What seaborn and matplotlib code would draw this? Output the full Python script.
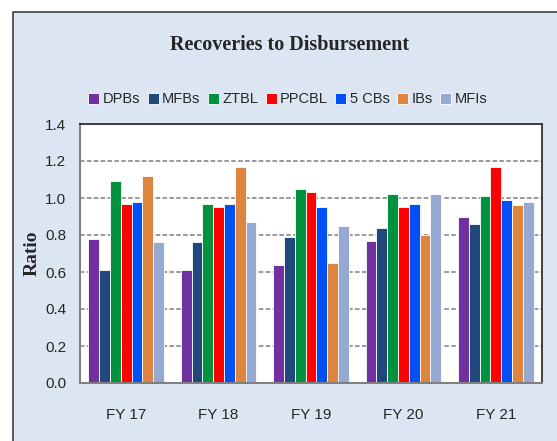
import pandas as pd
import matplotlib.pyplot as plt
import seaborn as sns
from matplotlib.patches import Rectangle
from matplotlib.ticker import FixedLocator, FormatStrFormatter

# Data
years = ['FY 17', 'FY 18', 'FY 19', 'FY 20', 'FY 21']
groups = ['DPBs', 'MFBs', 'ZTBL', 'PPCBL', '5 CBs', 'IBs', 'MFIs']
dpbs = [0.78, 0.61, 0.64, 0.77, 0.90]
mfbs = [0.61, 0.76, 0.79, 0.84, 0.86]
ztbl = [1.09, 0.97, 1.05, 1.02, 1.01]
ppcbl = [0.97, 0.95, 1.03, 0.95, 1.17]
cbs5 = [0.98, 0.97, 0.95, 0.97, 0.99]
ibs = [1.12, 1.17, 0.65, 0.80, 0.96]
mfis = [0.76, 0.87, 0.85, 1.02, 0.98]
colors = ['#7030A0', '#1F497D', '#00923F', '#FF0000', '#0050F5', '#DD843F', '#95A9D3']

series = [dpbs, mfbs, ztbl, ppcbl, cbs5, ibs, mfis]
rows = []
for g, vals in zip(groups, series):
    for y, v in zip(years, vals):
        rows.append({'Year': y, 'Group': g, 'Ratio': v})
df = pd.DataFrame(rows)

sns.set_style('white')
narrow = ['Liberation Sans Narrow', 'Liberation Sans', 'DejaVu Sans']
serif = ['Liberation Serif', 'DejaVu Serif']
plt.rcParams['font.family'] = narrow

fig = plt.figure(figsize=(5.57, 4.41), dpi=100)
fig.patch.set_facecolor('white')
# light blue chart frame
fig.patches.append(Rectangle((13 / 557, -0.01), 1.0, 1 - 12 / 441 + 0.01,
                             transform=fig.transFigure, facecolor='#DCE6F2',
                             edgecolor='#404040', linewidth=1.2, zorder=-10))

ax = fig.add_axes([80 / 557, 1 - 383 / 441, 462 / 557, 259 / 441])
sns.barplot(data=df, x='Year', y='Ratio', hue='Group', palette=colors,
            width=0.82, saturation=1, edgecolor='white', linewidth=0.6, ax=ax)

ax.set_facecolor('white')
ax.set_ylim(0, 1.4)
ax.set_xlim(-0.5, 4.5)
ax.yaxis.set_major_locator(FixedLocator([0, 0.2, 0.4, 0.6, 0.8, 1.0, 1.2, 1.4]))
ax.yaxis.set_major_formatter(FormatStrFormatter('%.1f'))
ax.set_axisbelow(True)
ax.yaxis.grid(True, color='#7F7F7F', linestyle=(0, (3, 1.5)), linewidth=1.1)

ax.set_xlabel('')
ax.set_ylabel('Ratio', fontfamily=serif, fontweight='bold', fontsize=14, labelpad=3)

ax.tick_params(axis='y', length=4, width=1, color='#808080', labelsize=11, pad=6)
ax.tick_params(axis='x', which='major', length=0, labelsize=11, pad=18)
ax.xaxis.set_minor_locator(FixedLocator([-0.5, 0.5, 1.5, 2.5, 3.5, 4.5]))
ax.tick_params(axis='x', which='minor', length=5, width=1, color='#808080')

for side in ['left', 'bottom']:
    ax.spines[side].set_color('#808080')
    ax.spines[side].set_linewidth(1.5)
for side in ['top', 'right']:
    ax.spines[side].set_color('#222222')
    ax.spines[side].set_linewidth(1.2)

leg = ax.legend(loc='center', bbox_to_anchor=(0.45, 1.095), ncol=7, frameon=False,
                handlelength=0.75, handleheight=0.75, handletextpad=0.25,
                columnspacing=0.5, fontsize=10.5)

fig.text(0.52, 1 - 45 / 441, 'Recoveries to Disbursement', ha='center', va='center',
         fontfamily=serif, fontweight='bold', fontsize=14.5)

fig.savefig('out.png', dpi=100)
